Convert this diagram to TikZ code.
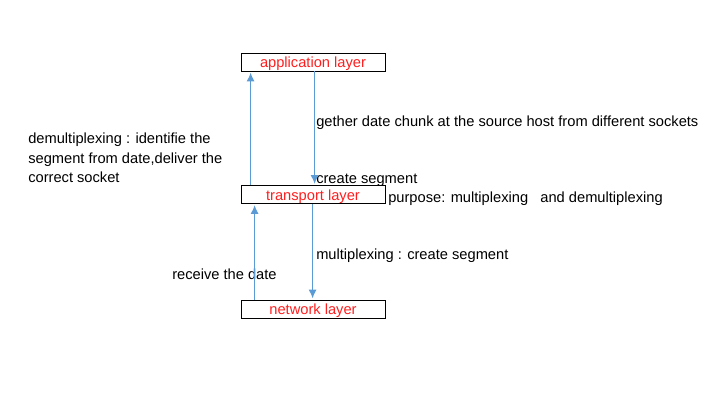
\documentclass[tikz,border=0pt]{standalone}
\usepackage{fontspec}
\setmainfont{Liberation Sans}
\usetikzlibrary{positioning}
\usetikzlibrary{arrows.meta}
\definecolor{arrowblue}{RGB}{91,155,213}
\definecolor{layerred}{RGB}{255,30,30}

\begin{document}
\begin{tikzpicture}[x=0.75pt,y=-0.75pt,
    every node/.style={font=\fontsize{11}{14.6}\selectfont},
    layer/.style={draw=black,line width=0.6pt,minimum width=108pt,minimum height=13.5pt,inner sep=0pt,text height=9.5pt,text depth=1pt,text=layerred},
    note/.style={anchor=west,inner sep=0pt,align=left},
    flow/.style={color=arrowblue,line width=0.7pt,shorten >=1pt,-{Latex[length=6.5pt,width=6pt]}}]
    \useasboundingbox (0,0) rectangle (714,406);

    \node (app)[layer] at (313, 62) {application layer};
    \node (trans)[layer] at (313, 194.5) {transport layer};
    \node (net)[layer] at (313, 309) {network layer};

    \node (gather)[note] at (316, 123) {gether date chunk at the source host from different sockets};
    \node (create)[note] at (316, 180) {create segment};
    \node (purpose)[note] at (388, 199) {purpose: multiplexing\ \ \ and demultiplexing};
    \node (demux)[note,anchor=north west] at (28, 133) {demultiplexing : identifie the\\segment from date,deliver the\\correct socket};
    \node (mux)[note] at (316, 256) {multiplexing : create segment};
    \node (receive)[note] at (172, 274) {receive the date};

    \path [flow] ([xshift=7.5pt]trans.north west) edge ([xshift=7.5pt]app.south west);
    \path [flow] ([xshift=55.5pt]app.south west) edge ([xshift=55.5pt]trans.north west);
    \path [flow] ([xshift=10.5pt]net.north west) edge ([xshift=10.5pt]trans.south west);
    \path [flow] ([xshift=54pt]trans.south west) edge ([xshift=54pt]net.north west);
\end{tikzpicture}
\end{document}
